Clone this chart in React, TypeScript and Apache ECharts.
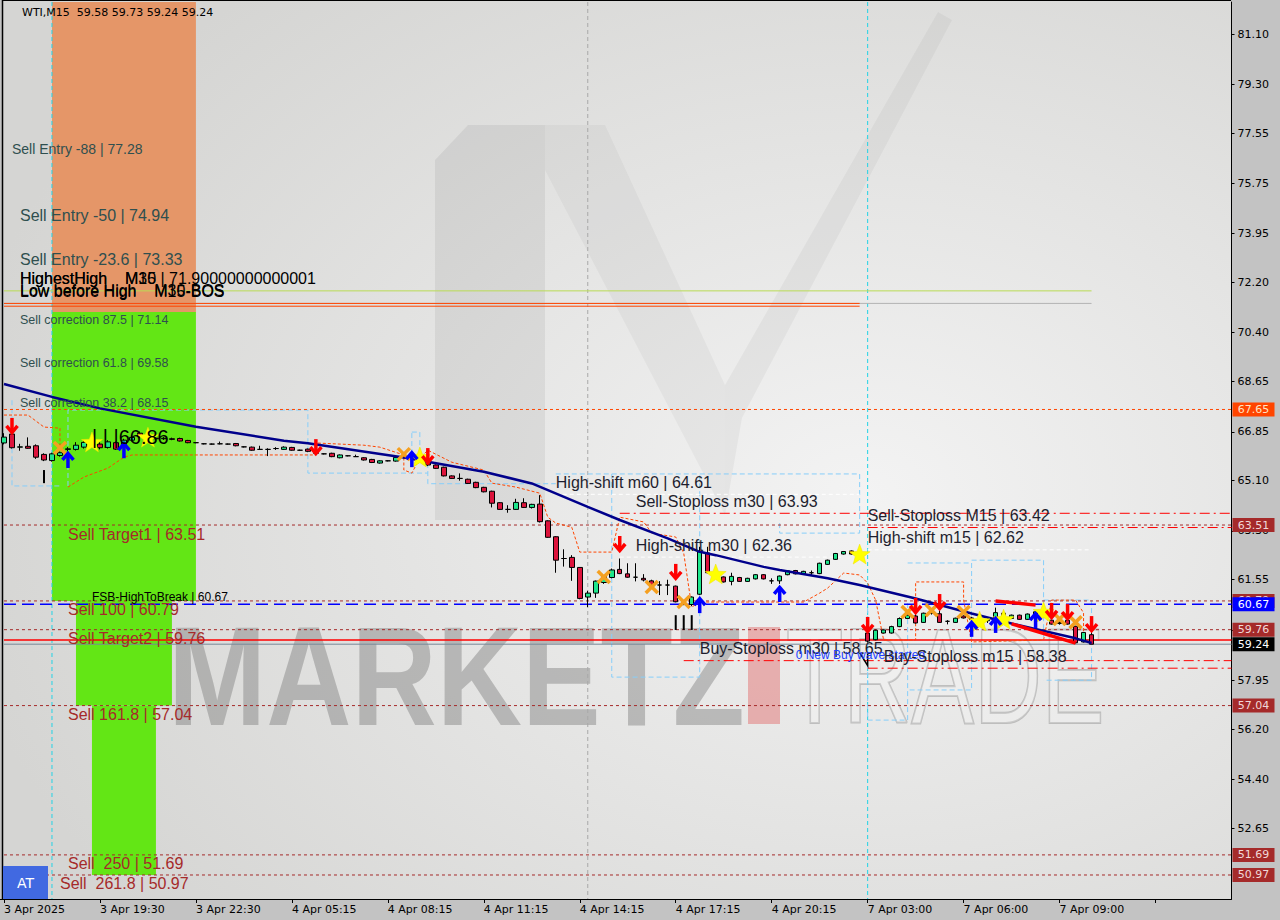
import React, { useEffect, useRef } from "react";
import * as echarts from "echarts";

const AX_FONT = "DejaVu Sans";
const OBJ_FONT = "Liberation Sans";
const NB = "\u00a0";

// ---------- axes ----------
const xTickLabels = ["3 Apr 2025", "3 Apr 19:30", "3 Apr 22:30", "4 Apr 05:15", "4 Apr 08:15", "4 Apr 11:15", "4 Apr 14:15", "4 Apr 17:15", "4 Apr 20:15", "7 Apr 03:00", "7 Apr 06:00", "7 Apr 09:00"];
const SLOTS = 154;
const categories = Array.from({ length: SLOTS }, (_, i) => String(i));
const yTicks = [81.1, 79.3, 77.55, 75.75, 73.95, 72.2, 70.4, 68.65, 66.85, 65.1, 63.3, 61.55, 59.75, 57.95, 56.2, 54.4, 52.65];
const Y_MIN = 50.11;
const Y_MAX = 82.25;

// ---------- candles: [open, close, low, high] ----------
const candles = [
  [66.45, 66.66, 66.4, 66.8], [66.77, 66.28, 66.25, 66.85], [66.3, 66.31, 66.17, 66.42], [66.33, 66.26, 66.24, 66.65],
  [66.35, 65.94, 65.88, 66.4], [66.04, 65.84, 65.8, 66.08], [65.82, 66.06, 65.78, 66.1], [66.0, 66.1, 65.96, 66.14],
  [66.22, 66.24, 66.15, 66.3], [66.22, 66.37, 66.18, 66.48], [66.3, 66.47, 66.25, 66.55], [66.45, 66.55, 66.4, 66.62],
  [66.41, 66.28, 66.22, 66.48], [66.29, 66.49, 66.25, 66.55], [66.46, 66.23, 66.2, 66.5], [66.38, 66.55, 66.33, 66.6],
  [66.55, 66.65, 66.5, 66.72], [66.8, 66.68, 66.62, 66.86], [66.66, 66.62, 66.58, 66.7], [66.62, 66.6, 66.55, 66.66],
  [66.6, 66.62, 66.56, 66.66], [66.6, 66.58, 66.55, 66.64], [66.61, 66.52, 66.5, 66.64], [66.54, 66.46, 66.44, 66.56],
  [66.46, 66.46, 66.44, 66.48], [66.42, 66.42, 66.4, 66.44], [66.41, 66.41, 66.39, 66.43], [66.42, 66.42, 66.4, 66.5],
  [66.41, 66.41, 66.39, 66.43], [66.43, 66.35, 66.33, 66.45], [66.31, 66.31, 66.29, 66.33], [66.3, 66.19, 66.17, 66.32],
  [66.22, 66.22, 66.21, 66.35], [66.22, 66.22, 65.98, 66.26], [66.25, 66.25, 66.2, 66.3], [66.22, 66.3, 66.2, 66.33],
  [66.29, 66.19, 66.17, 66.31], [66.19, 66.19, 66.17, 66.21], [66.23, 66.15, 66.12, 66.25], [66.12, 66.08, 66.05, 66.15],
  [66.06, 66.06, 66.04, 66.08], [66.08, 65.96, 65.94, 66.1], [65.92, 66.02, 65.9, 66.04], [65.99, 65.99, 65.97, 66.01],
  [65.96, 65.96, 65.95, 66.03], [65.92, 65.84, 65.82, 65.94], [65.86, 65.75, 65.73, 65.88], [65.73, 65.81, 65.71, 65.83],
  [65.81, 65.81, 65.79, 65.83], [65.8, 65.93, 65.78, 65.95], [65.93, 65.98, 65.9, 66.02], [65.97, 65.94, 65.9, 66.0],
  [65.95, 65.85, 65.82, 66.0], [65.81, 65.66, 65.62, 65.86], [65.66, 65.54, 65.52, 65.68], [65.58, 65.27, 65.25, 65.6],
  [65.27, 65.18, 65.16, 65.29], [65.18, 65.18, 65.1, 65.36], [65.15, 65.0, 64.98, 65.17], [65.04, 64.85, 64.83, 65.06],
  [64.86, 64.7, 64.68, 64.88], [64.72, 64.29, 64.14, 64.74], [64.31, 64.07, 64.05, 64.33], [64.07, 64.07, 63.95, 64.22],
  [64.07, 64.32, 64.05, 64.45], [64.31, 64.14, 64.12, 64.47], [64.14, 64.25, 64.1, 64.27], [64.26, 63.63, 63.6, 64.58],
  [63.66, 63.07, 63.05, 63.68], [63.09, 62.25, 61.8, 63.11], [62.31, 62.31, 62.02, 62.64], [62.35, 61.99, 61.51, 62.43],
  [61.99, 60.88, 60.85, 62.0], [60.93, 61.07, 60.57, 61.15], [61.07, 61.5, 60.9, 61.52], [61.45, 61.66, 61.4, 61.7],
  [61.63, 61.9, 61.6, 61.95], [61.92, 61.77, 61.75, 62.31], [61.76, 61.64, 61.62, 62.14], [61.64, 61.64, 61.49, 62.14],
  [61.6, 61.54, 61.49, 61.75], [61.51, 61.36, 61.3, 61.55], [61.36, 61.36, 61.0, 61.5], [61.36, 61.36, 61.0, 61.55],
  [61.32, 60.76, 60.74, 61.34], [60.73, 60.66, 60.64, 60.75], [60.66, 60.93, 60.6, 60.95], [61.03, 62.55, 61.0, 62.73],
  [62.51, 61.8, 61.78, 62.73], [61.8, 61.7, 61.65, 61.85], [61.65, 61.47, 61.45, 61.67], [61.49, 61.67, 61.35, 61.8],
  [61.63, 61.49, 61.47, 61.65], [61.49, 61.6, 61.47, 61.62], [61.58, 61.73, 61.56, 61.75], [61.73, 61.58, 61.56, 61.75],
  [61.51, 61.51, 61.4, 61.6], [61.51, 61.68, 61.4, 61.7], [61.73, 61.87, 61.71, 61.89], [61.88, 61.76, 61.74, 61.9],
  [61.76, 61.85, 61.74, 61.87], [61.8, 61.8, 61.72, 61.88], [61.77, 62.14, 61.75, 62.16], [62.1, 62.25, 62.08, 62.27],
  [62.28, 62.49, 62.26, 62.51], [62.47, 62.56, 62.45, 62.58], [62.58, 62.47, 62.45, 62.6], [62.47, 62.4, 62.36, 62.5],
  [59.64, 59.35, 59.3, 59.75], [59.4, 59.74, 59.38, 59.76], [59.64, 59.75, 59.62, 59.77], [59.64, 59.87, 59.62, 59.9],
  [59.87, 60.16, 59.85, 60.2], [60.16, 60.28, 60.14, 60.3], [60.25, 60.0, 59.98, 60.3], [60.02, 60.35, 60.0, 60.37],
  [60.35, 60.4, 60.3, 60.45], [60.33, 60.02, 60.0, 60.45], [60.06, 60.06, 59.95, 60.1], [60.02, 60.17, 60.0, 60.19],
  [60.25, 60.18, 60.16, 60.27], [60.18, 60.12, 60.05, 60.22], [60.12, 60.08, 60.02, 60.16], [60.08, 60.12, 60.0, 60.18],
  [60.1, 60.37, 60.08, 60.55], [60.35, 60.28, 60.2, 60.4], [60.16, 60.28, 60.14, 60.3], [60.28, 60.13, 60.11, 60.3],
  [60.13, 60.32, 60.11, 60.34], [60.25, 60.4, 60.2, 60.45], [60.4, 60.35, 60.3, 60.45], [60.1, 59.96, 59.94, 60.12],
  [59.98, 60.02, 59.94, 60.06], [60.1, 59.96, 59.94, 60.12], [59.88, 59.29, 59.27, 59.9], [59.32, 59.66, 59.3, 59.68],
  [59.58, 59.24, 59.24, 59.73],
];

// ---------- moving average (bar index, price) ----------
const maLine = [
  [0, 68.56], [6, 68.1], [12, 67.69], [24, 67.03], [35, 66.53], [38, 66.44], [50, 65.93], [60, 65.42], [66, 65.0],
  [73, 64.16], [77, 63.69], [83, 63.03], [87, 62.55], [89, 62.43], [95, 62.01], [97, 61.9], [103, 61.6], [107, 61.36],
  [114, 60.88], [121, 60.34], [126, 59.98], [134, 59.45], [136, 59.28],
];

// ---------- trailing stop (dashed orange) ----------
const trailA = [[0.2, 67.45], [3.3, 67.45], [4.9, 67.02], [7.1, 66.98], [7.1, 66.27]];
const trailB = [
  [7.9, 64.87], [9.6, 65.23], [13.3, 65.55], [15.4, 65.94], [16.2, 66.02], [38.7, 66.02], [38.9, 66.45], [44.6, 66.37],
  [47.1, 66.3], [49.6, 66.02], [50.2, 65.48], [51.4, 65.37], [52.3, 65.91], [52.9, 66.19], [55.8, 65.76], [59.6, 65.48],
  [60.8, 65.01], [64.2, 64.87], [66.7, 64.65], [68.1, 63.79], [69.2, 63.58], [71.2, 63.43], [71.8, 62.54], [76.2, 62.54],
  [76.7, 63.79], [79.9, 63.62], [80.8, 63.22], [83.7, 63.08], [85.4, 62.5], [86.2, 60.57], [86.6, 60.75], [100.4, 60.75],
  [101.7, 61.07], [102.9, 61.25], [105.4, 61.79], [107.1, 61.72], [107.9, 61.43], [109.2, 60.82], [109.6, 59.39],
  [113.7, 59.39], [113.7, 61.47], [120.2, 61.47], [120.4, 60.82], [120.8, 59.32], [130.4, 59.39], [130.8, 60.82],
  [133.6, 60.82], [134.6, 60.36], [134.8, 59.39],
];

// ---------- zone boxes (light blue dashed), polylines in (bar, price) ----------
const zonePaths = [
  [[0.8, 67.98], [0.8, 64.91], [7.1, 64.91]],
  [[7.8, 64.91], [7.8, 67.63], [38.3, 67.63], [38.3, 65.37], [53.3, 65.37]],
  [[50.6, 66.84], [52.1, 66.84], [52.1, 65.73], [50.6, 65.73], [50.6, 66.84]],
  [[52.9, 65.73], [52.9, 64.99], [69.2, 64.99]],
  [[68.7, 65.34], [107.1, 65.34], [107.1, 63.22], [96.8, 63.22], [96.8, 63.69]],
  [[75.8, 65.34], [75.8, 58.06], [86.8, 58.06], [86.8, 65.34]],
  [[107.8, 60.82], [107.8, 56.52], [112.7, 56.52], [112.7, 60.82]],
  [[112.7, 62.15], [120.8, 62.15], [120.8, 57.6], [112.7, 57.6]],
  [[120.8, 62.25], [130.2, 62.25], [130.2, 59.39]],
  [[130.2, 60.82], [136.4, 60.82], [136.4, 57.95], [130.2, 57.95]],
];

// ---------- filled fibonacci zones [bar0, bar1, top, bottom] ----------
const fillZones = [
  [5.94, 23.94, 82.25, 71.14],
  [5.94, 23.94, 71.14, 60.79],
  [8.94, 20.94, 60.79, 57.04],
  [10.94, 18.94, 57.04, 50.97],
];
const fillColors = ["#e59668", "#63e615", "#63e615", "#63e615"];

// ---------- horizontal levels [price, bar0, bar1, kind] ----------
const levels: [number, number, number, string][] = [
  [71.9, 0, 135.8, "lime"],
  [71.45, 0, 135.8, "grayThin"],
  [71.45, 0, 106.8, "redThin"],
  [71.35, 0, 106.8, "redThin"],
  [67.65, 0, 160, "orangeDot"],
  [64.61, 68.7, 107, "whiteDash"],
  [63.93, 76.7, 160, "redDashDot"],
  [63.51, 0, 160, "brownDot"],
  [63.42, 107.7, 160, "redDashDot"],
  [62.62, 107.8, 135.6, "whiteDash"],
  [62.36, 76.7, 105, "whiteDash"],
  [60.79, 0, 160, "brownDot"],
  [60.67, 0, 160, "blueDash"],
  [59.76, 0, 160, "brownDot"],
  [59.39, 0, 160, "redSolid"],
  [59.24, 0, 160, "graySolid"],
  [58.65, 84.6, 160, "redDashDot"],
  [58.38, 107.8, 160, "redDashDot"],
  [57.04, 0, 160, "brownDot"],
  [51.69, 0, 160, "brownDot"],
  [50.97, 0, 160, "brownDot"],
];
const lineKinds: Record<string, any> = {
  orangeDot: { stroke: "#ff4500", lineDash: [3, 3], lineWidth: 1 },
  brownDot: { stroke: "#a52a2a", lineDash: [3, 3], lineWidth: 1 },
  blueDash: { stroke: "#0000ff", lineDash: [12, 6], lineWidth: 1.5 },
  redSolid: { stroke: "#ff0000", lineWidth: 1.5 },
  graySolid: { stroke: "#778899", lineWidth: 1 },
  redDashDot: { stroke: "#ff0000", lineDash: [10, 4, 2, 4], lineWidth: 1 },
  whiteDash: { stroke: "#ffffff", lineDash: [4, 3], lineWidth: 1 },
  lime: { stroke: "#b9dc55", lineWidth: 1 },
  grayThin: { stroke: "#b4b4b4", lineWidth: 1 },
  redThin: { stroke: "#ff4500", lineWidth: 1 },
};

// vertical separators [bar, kind]
const vLines: [number, string][] = [
  [5.94, "cyan"],
  [72.9, "gray"],
  [107.95, "cyan"],
];

// ---------- right axis price tags ----------
const tagPrices = [67.65, 63.51, 60.79, 60.67, 59.76, 59.24, 57.04, 51.69, 50.97];
const tagFills = ["#ff4500", "#a52a2a", "#a52a2a", "#0000ff", "#a52a2a", "#000000", "#a52a2a", "#a52a2a", "#a52a2a"];
const tagTextColors = ["#ffe4c4", "#f0d8d8", "#f0d8d8", "#ffffff", "#f0d8d8", "#ffffff", "#f0d8d8", "#f0d8d8", "#f0d8d8"];

// ---------- signals (bar, price) ----------
const sellArrows = [[1.0, 67.06], [38.9, 66.3], [52.9, 65.98], [77.1, 62.83], [83.9, 61.83], [107.9, 59.93], [113.9, 60.61], [116.8, 60.75], [130.8, 60.43], [133.1, 60.39], [135.8, 59.96]];
const buyArrows = [[7.9, 65.84], [14.9, 66.19], [50.9, 65.87], [86.8, 60.64], [96.8, 61.04], [121, 59.79], [123.7, 59.93], [128.7, 60.1]];
const starMarks = [[10.8, 66.45], [17.9, 66.62], [51.8, 65.91], [88.9, 61.72], [106.8, 62.43], [121.7, 60.03], [124.8, 60.1], [129.8, 60.36]];
const crossMarks = [[6.8, 66.27], [49.8, 66.05], [74.8, 61.65], [80.8, 61.29], [84.8, 60.75], [112.9, 60.39], [115.8, 60.46], [119.8, 60.39], [131.7, 60.14], [133.8, 60.03]];
const redSegments = [[[123.9, 60.79], [129.2, 60.64]], [[125.8, 59.97], [134.2, 59.28]]];
const blackBars = [[[5.06, 65.48], [5.06, 65.01]], [[83.7, 60.28], [83.7, 59.75]], [[85.1, 60.28], [85.1, 59.75]], [[86.3, 60.28], [86.3, 59.75]]];
const blackV = [[107.3, 58.94], [107.8, 58.47], [108.3, 58.94]];

// ---------- text objects [bar, price, text, size, color, anchor] ----------
const DSG = "#2f4f4f";
const BRN = "#a52a2a";
const DRK = "#1e1e2e";
const notes: [number, number, string, number, string, string][] = [
  [1.44, 77.28, "Sell Entry -88 | 77.28", 14, DSG, "top"],
  [1.69, 74.94, "Sell Entry -50 | 74.94", 16, DSG, "top"],
  [1.69, 73.33, "Sell Entry -23.6 | 73.33", 16, DSG, "top"],
  [1.81, 71.14, "Sell correction 87.5 | 71.14", 12.5, DSG, "top"],
  [1.81, 69.58, "Sell correction 61.8 | 69.58", 12.5, DSG, "top"],
  [1.81, 68.15, "Sell correction 38.2 | 68.15", 12.5, DSG, "top"],
  [8.44, 63.51, "Sell Target1 | 63.51", 16, BRN, "top"],
  [7.7, 60.79, "Sell 100 | 60.79", 16, BRN, "top"],
  [7.8, 59.76, "Sell Target2 | 59.76", 16, BRN, "top"],
  [7.7, 57.04, "Sell 161.8 | 57.04", 16, BRN, "top"],
  [8.3, 51.69, "Sell" + NB + NB + "250 | 51.69", 16, BRN, "top"],
  [7.4, 50.97, "Sell" + NB + NB + "261.8 | 50.97", 16, BRN, "top"],
  [10.7, 60.67, "FSB-HighToBreak | 60.67", 12, "#000000", "bottom"],
  [68.7, 64.61, "High-shift m60 | 64.61", 16, DRK, "bottom"],
  [78.7, 63.93, "Sell-Stoploss m30 | 63.93", 16, DRK, "bottom"],
  [78.7, 62.36, "High-shift m30 | 62.36", 16, DRK, "bottom"],
  [107.8, 63.42, "Sell-Stoploss M15 | 63.42", 16, DRK, "bottom"],
  [107.8, 62.62, "High-shift m15 | 62.62", 16, DRK, "bottom"],
  [86.7, 58.65, "Buy-Stoploss m30 | 58.65", 16, DRK, "bottom"],
  [98.9, 58.85, "0 New Buy wave started", 12, "#2040ff", "middle"],
  [109.6, 58.38, "Buy-Stoploss m15 | 58.38", 16, DRK, "bottom"],
  [2.44, 71.9, "HighestHigh" + NB.repeat(4) + "M30 | 71.90000000000001", 16, "#000000", "bottom"],
  [2.44, 71.9, "HighestHigh" + NB.repeat(4) + "M15", 16, "#000000", "bottom"],
  [2.44, 71.48, "Low before High" + NB.repeat(4) + "M30-BOS", 16, "#000000", "bottom"],
  [2.44, 71.43, "Low before High" + NB.repeat(4) + "M15-BOS", 16, "#000000", "bottom"],
  [11.2, 66.66, "|" + NB + "|" + NB + "|66.86", 20, "#000000", "middle"],
];

function starPoints(cx: number, cy: number, R: number, r: number) {
  const pts: number[][] = [];
  for (let k = 0; k < 10; k++) {
    const ang = -Math.PI / 2 + (k * Math.PI) / 5;
    const rad = k % 2 === 0 ? R : r;
    pts.push([cx + rad * Math.cos(ang), cy + rad * Math.sin(ang)]);
  }
  return pts;
}

function renderUnder(params: any, api: any) {
  if (params.dataIndex > 0) return null;
  const cs = params.coordSys;
  const L = 3;
  const R = cs.x + cs.width;
  const T = cs.y;
  const B = cs.y + cs.height;
  const P = (i: number, p: number) => api.coord([i, p]);
  const cx = (x: number) => Math.min(R, Math.max(L, x));
  const ch: any[] = [];
  fillZones.forEach((z, k) => {
    const a = P(z[0], z[2]);
    const b = P(z[1], z[3]);
    const y0 = Math.max(T - 1, a[1]);
    ch.push({ type: "rect", shape: { x: a[0], y: y0, width: b[0] - a[0], height: b[1] - y0 }, style: { fill: fillColors[k] } });
  });
  vLines.forEach(([i, kind]) => {
    const x = P(i, 60)[0];
    ch.push({
      type: "line",
      shape: { x1: x, y1: T, x2: x, y2: B },
      style: kind === "cyan" ? { stroke: "#22d3e6", lineDash: [4, 3], lineWidth: 1 } : { stroke: "#a8a8a8", lineDash: [4, 3], lineWidth: 1 },
    });
  });
  zonePaths.forEach((path) => {
    ch.push({ type: "polyline", shape: { points: path.map((q) => P(q[0], q[1])) }, style: { stroke: "#87cefa", lineDash: [5, 3], lineWidth: 1, fill: null } });
  });
  levels.forEach(([p, i0, i1, kind]) => {
    const y = P(0, p)[1];
    ch.push({ type: "line", shape: { x1: cx(P(i0, p)[0]), y1: y, x2: cx(P(i1, p)[0]), y2: y }, style: { ...lineKinds[kind] } });
  });
  [trailA, trailB].forEach((tr) => {
    ch.push({ type: "polyline", shape: { points: tr.map((q) => P(q[0], q[1])) }, style: { stroke: "#ff4500", lineDash: [3, 2], lineWidth: 1, fill: null } });
  });
  return { type: "group", children: ch };
}

function renderOver(params: any, api: any) {
  if (params.dataIndex > 0) return null;
  const cs = params.coordSys;
  const R = cs.x + cs.width;
  const P = (i: number, p: number) => api.coord([i, p]);
  const ch: any[] = [];
  redSegments.forEach((s) => {
    const a = P(s[0][0], s[0][1]);
    const b = P(s[1][0], s[1][1]);
    ch.push({ type: "line", shape: { x1: a[0], y1: a[1], x2: b[0], y2: b[1] }, style: { stroke: "#ff0000", lineWidth: 3.5 } });
  });
  blackBars.forEach((s) => {
    const a = P(s[0][0], s[0][1]);
    const b = P(s[1][0], s[1][1]);
    ch.push({ type: "line", shape: { x1: a[0], y1: a[1], x2: b[0], y2: b[1] }, style: { stroke: "#000000", lineWidth: 2 } });
  });
  ch.push({ type: "polyline", shape: { points: blackV.map((q) => P(q[0], q[1])) }, style: { stroke: "#000000", lineWidth: 1.5, fill: null } });
  crossMarks.forEach(([i, p]) => {
    const [x, y] = P(i, p);
    ch.push({ type: "line", shape: { x1: x - 6, y1: y - 6, x2: x + 6, y2: y + 6 }, style: { stroke: "#f5a020", lineWidth: 3.5 } });
    ch.push({ type: "line", shape: { x1: x + 6, y1: y - 6, x2: x - 6, y2: y + 6 }, style: { stroke: "#f5a020", lineWidth: 3.5 } });
  });
  starMarks.forEach(([i, p]) => {
    const [x, y] = P(i, p);
    ch.push({ type: "polygon", shape: { points: starPoints(x, y, 11, 4.6) }, style: { fill: "#ffff00", stroke: "#f0e000", lineWidth: 0.5 } });
  });
  sellArrows.forEach(([i, p]) => {
    const [x, y] = P(i, p);
    ch.push({ type: "line", shape: { x1: x, y1: y - 8, x2: x, y2: y + 6 }, style: { stroke: "#ff0000", lineWidth: 3.5 } });
    ch.push({ type: "polyline", shape: { points: [[x - 5.5, y], [x, y + 6.5], [x + 5.5, y]] }, style: { stroke: "#ff0000", lineWidth: 3.5, fill: null } });
  });
  buyArrows.forEach(([i, p]) => {
    const [x, y] = P(i, p);
    ch.push({ type: "line", shape: { x1: x, y1: y + 8, x2: x, y2: y - 6 }, style: { stroke: "#0000ff", lineWidth: 3.5 } });
    ch.push({ type: "polyline", shape: { points: [[x - 5.5, y], [x, y - 6.5], [x + 5.5, y]] }, style: { stroke: "#0000ff", lineWidth: 3.5, fill: null } });
  });
  notes.forEach(([i, p, text, size, color, anchor]) => {
    const [x, y] = P(i, p);
    const yy = anchor === "bottom" ? y - (size >= 16 ? 4 : 1) : anchor === "top" ? y + 1 : y;
    ch.push({
      type: "text",
      x,
      y: yy,
      style: { text, fill: color, fontSize: size, fontFamily: OBJ_FONT, align: "left", verticalAlign: anchor },
    });
  });
  tagPrices.forEach((p, k) => {
    const y = P(0, p)[1];
    ch.push({ type: "rect", shape: { x: R + 1, y: y - 7, width: 42, height: 14 }, style: { fill: tagFills[k] } });
    ch.push({
      type: "text",
      x: R + 22,
      y,
      style: { text: p.toFixed(2), fill: tagTextColors[k], fontSize: 11, fontFamily: AX_FONT, align: "center", verticalAlign: "middle" },
    });
  });
  return { type: "group", children: ch };
}

function buildOption() {
  const graphic: any[] = [
    {
      type: "rect",
      z: 0,
      shape: { x: 3, y: 1, width: 1228, height: 898 },
      style: {
        fill: new echarts.graphic.RadialGradient(0.7, 0.55, 0.75, [
          { offset: 0, color: "#f3f3f3" },
          { offset: 1, color: "#d5d5d3" },
        ]),
      },
    },
    // watermark logo
    { type: "polygon", z: 1, shape: { points: [[435, 160], [468, 125], [545, 125], [545, 520], [435, 520]] }, style: { fill: "rgba(0,0,0,0.06)" } },
    { type: "polygon", z: 1, shape: { points: [[545, 125], [605, 125], [725, 385], [725, 515], [545, 170]] }, style: { fill: "rgba(0,0,0,0.035)" } },
    { type: "polygon", z: 1, shape: { points: [[725, 385], [938, 12], [952, 20], [742, 418], [725, 515]] }, style: { fill: "rgba(0,0,0,0.04)" } },
    {
      type: "text",
      z: 1,
      x: 168,
      y: 676,
      scaleY: 1.2,
      style: { text: "MARKETZ", fill: "rgba(120,120,120,0.42)", fontSize: 118, fontWeight: 900, fontFamily: OBJ_FONT, align: "left", verticalAlign: "middle" },
    },
    { type: "rect", z: 1, shape: { x: 748, y: 627, width: 32, height: 97 }, style: { fill: "rgba(225,90,90,0.42)" } },
    {
      type: "text",
      z: 1,
      x: 786,
      y: 676,
      scaleY: 1.45,
      style: { text: "TRADE", fill: "rgba(255,255,255,0.2)", stroke: "rgba(130,130,130,0.42)", lineWidth: 1.5, fontSize: 94, fontFamily: OBJ_FONT, align: "left", verticalAlign: "middle" },
    },
    { type: "line", z: 1, shape: { x1: 2.5, y1: 0, x2: 2.5, y2: 899 }, style: { stroke: "#000", lineWidth: 1.5 } },
    { type: "line", z: 1, shape: { x1: 2.5, y1: 0.5, x2: 1231, y2: 0.5 }, style: { stroke: "#000", lineWidth: 1 } },
    {
      type: "text",
      z: 10,
      x: 22,
      y: 12,
      style: { text: "WTI,M15" + NB + NB + "59.58 59.73 59.24 59.24", fill: "#000", fontSize: 11, fontFamily: AX_FONT, align: "left", verticalAlign: "middle" },
    },
    { type: "rect", z: 10, shape: { x: 3, y: 866, width: 45, height: 33 }, style: { fill: "#4169e1" } },
    { type: "text", z: 10, x: 25.5, y: 882.5, style: { text: "AT", fill: "#ffffff", fontSize: 14, fontFamily: AX_FONT, align: "center", verticalAlign: "middle" } },
  ];

  return {
    animation: false,
    backgroundColor: "#c3c3c3",
    graphic,
    grid: { left: -0.5, top: 2, width: 8 * SLOTS, height: 897, containLabel: false },
    xAxis: {
      type: "category",
      data: categories,
      boundaryGap: true,
      axisLine: { show: true, lineStyle: { color: "#000", width: 1 } },
      axisTick: { show: true, alignWithLabel: true, interval: 11, length: 4, lineStyle: { color: "#000" } },
      axisLabel: {
        interval: 11,
        align: "left",
        margin: 5,
        color: "#000",
        fontSize: 11,
        fontFamily: AX_FONT,
        formatter: (_v: string, idx: number) => xTickLabels[idx / 12] ?? "",
      },
      splitLine: { show: false },
    },
    yAxis: {
      type: "value",
      position: "right",
      min: Y_MIN,
      max: Y_MAX,
      scale: true,
      splitLine: { show: false },
      axisLine: { show: true, lineStyle: { color: "#000", width: 1 } },
      axisTick: { show: true, length: 3, customValues: yTicks, lineStyle: { color: "#000" } },
      axisLabel: { customValues: yTicks, margin: 6, color: "#000", fontSize: 11, fontFamily: AX_FONT, formatter: (v: number) => v.toFixed(2) },
    },
    series: [
      { type: "custom", name: "under", z: 2, renderItem: renderUnder, data: [[0, 60]], silent: true, clip: false },
      {
        type: "candlestick",
        name: "WTI",
        z: 3,
        barWidth: 5,
        data: candles.map((c) => [c[0], c[1], c[2], c[3]]),
        itemStyle: { color: "#1ee68c", color0: "#dc143c", borderColor: "#000", borderColor0: "#000", borderWidth: 1 },
      },
      {
        type: "line",
        name: "MA",
        z: 4,
        data: maLine,
        showSymbol: false,
        symbol: "none",
        lineStyle: { color: "#00008b", width: 2.5 },
      },
      { type: "custom", name: "over", z: 5, renderItem: renderOver, data: [[0, 60]], silent: true, clip: false },
    ],
  };
}

export default function App() {
  const ref = useRef<HTMLDivElement>(null);
  useEffect(() => {
    if (!ref.current) return;
    const chart = echarts.init(ref.current, null, { renderer: "svg" });
    chart.setOption(buildOption() as any);
    return () => chart.dispose();
  }, []);
  return (
    <div style={{ position: "absolute", left: 0, top: 0, width: 1280, height: 920, background: "#c3c3c3" }}>
      <div ref={ref} style={{ width: 1280, height: 920 }} />
    </div>
  );
}
